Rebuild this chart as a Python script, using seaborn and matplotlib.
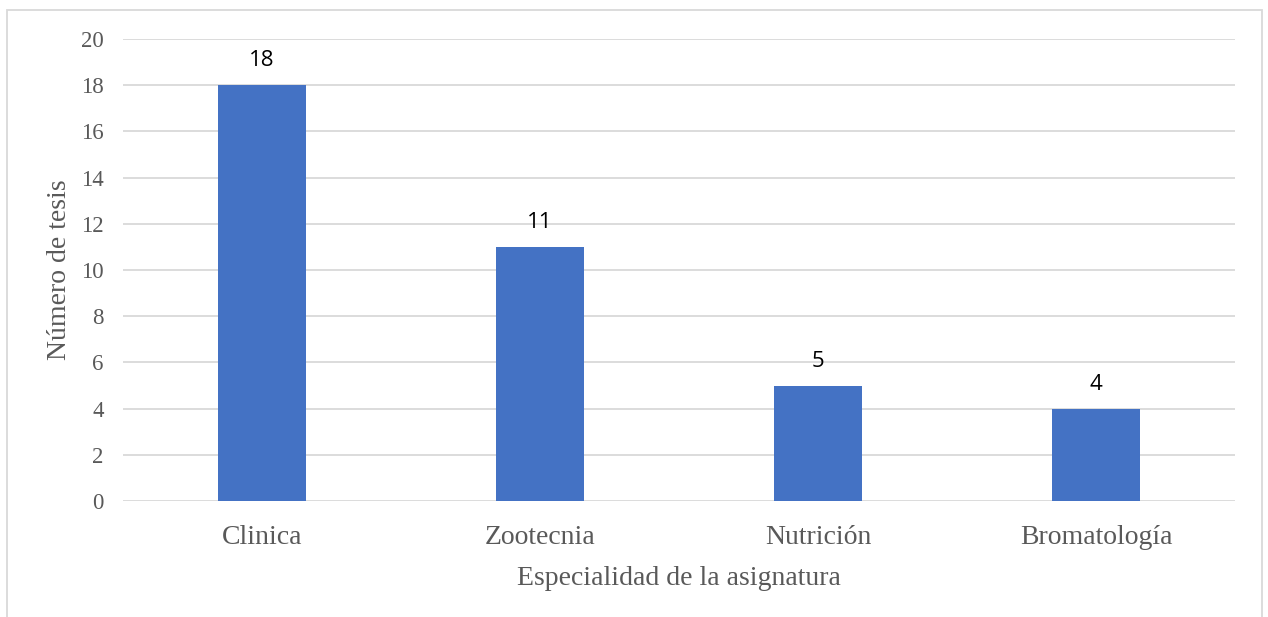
import matplotlib
matplotlib.use("Agg")
import matplotlib.pyplot as plt
import seaborn as sns
import pandas as pd
from matplotlib.patches import Rectangle

categories = ["Clinica", "Zootecnia", "Nutrición", "Bromatología"]
values = [18, 11, 5, 4]
yticks = [0, 2, 4, 6, 8, 10, 12, 14, 16, 18, 20]

sns.set_theme(style="white")
plt.rcParams["font.family"] = ["Liberation Serif", "DejaVu Serif"]

df = pd.DataFrame({"cat": categories, "val": values})

fig = plt.figure(figsize=(12.68, 6.17), dpi=100)
ax = fig.add_axes([123/1268, 1-501/617, (1235-123)/1268, (501-39)/617])

sns.barplot(data=df, x="cat", y="val", color="#4472C4", width=0.313, ax=ax,
            saturation=1, zorder=3, linewidth=0, edgecolor="none")

ax.set_ylim(0, 20)
ax.set_yticks(yticks)
ax.set_xlim(-0.5, len(categories) - 0.5)
ax.yaxis.grid(True, color="#D9D9D9", linewidth=1.3, zorder=0)
ax.set_axisbelow(True)
for s in ax.spines.values():
    s.set_visible(False)

ax.tick_params(axis="y", labelsize=16.5, colors="#595959", length=0, pad=14)
ax.tick_params(axis="x", labelsize=20, colors="#595959", length=0, pad=17.5)

ax.set_xlabel("Especialidad de la asignatura", fontsize=20, color="#595959", labelpad=11)
ax.set_ylabel("Número de tesis", fontsize=20, color="#595959", labelpad=6)

for cont in ax.containers:
    ax.bar_label(cont, labels=[str(v) for v in values], padding=10,
                 fontsize=16, color="black", family=["Open Sans", "DejaVu Sans"])

# outer frame
fig.patches.append(Rectangle((7/1268, -0.05), (1262-7)/1268, 1.05 - 10/617,
                             transform=fig.transFigure, fill=False,
                             edgecolor="#D9D9D9", linewidth=1.3))

fig.savefig("out.png", dpi=100)
